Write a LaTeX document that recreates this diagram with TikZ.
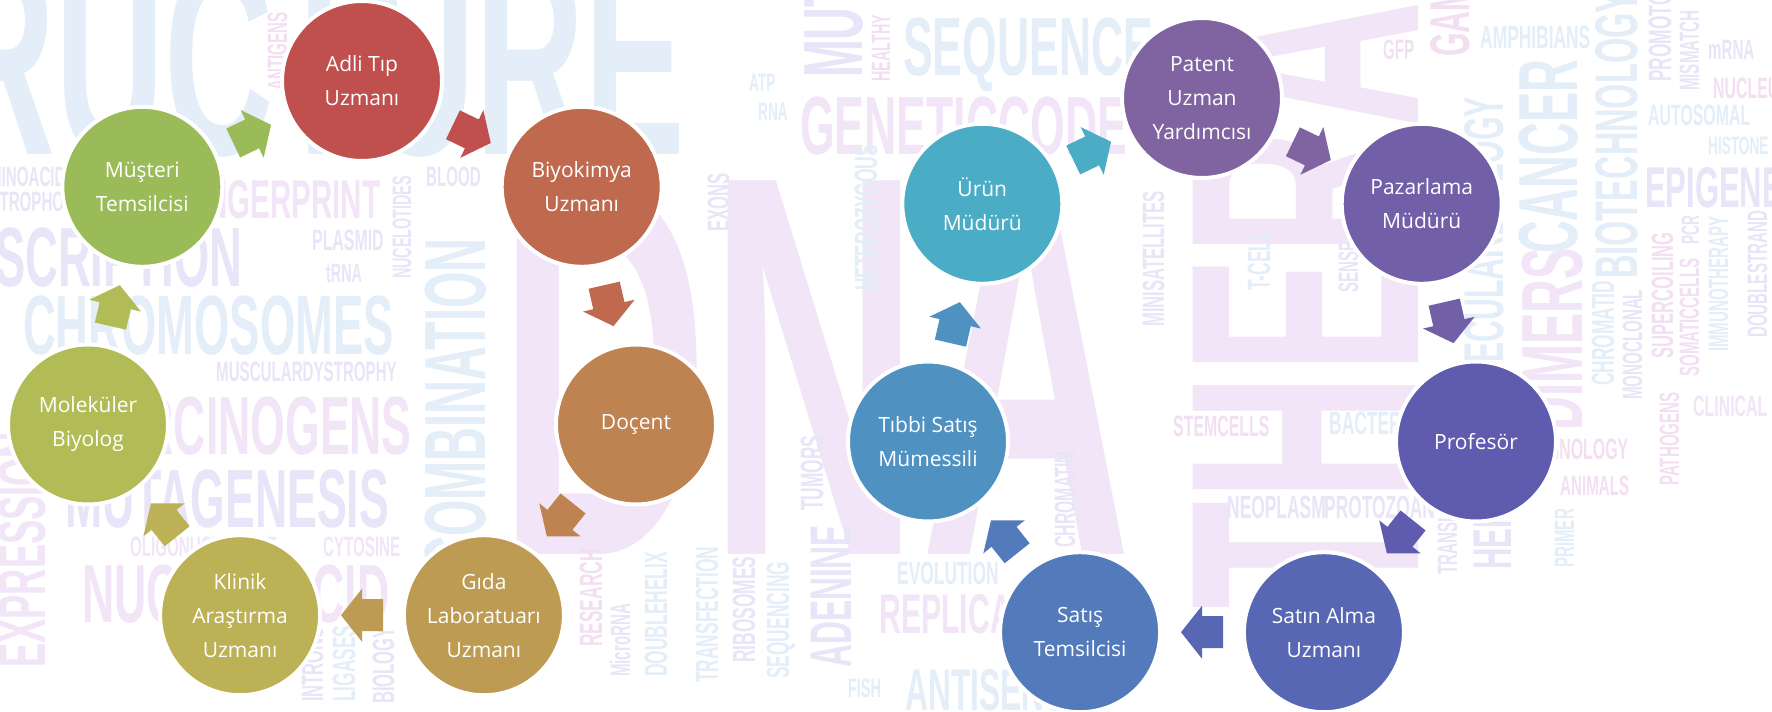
\documentclass[tikz,border=0pt]{standalone}
\usepackage{fontspec}
\setmainfont{Open Sans}
\newfontfamily\cloudfont[FakeStretch=0.54]{Liberation Sans}

\definecolor{left1}{HTML}{C0504D}
\definecolor{left2}{HTML}{BF6A4F}
\definecolor{left3}{HTML}{BE8351}
\definecolor{left4}{HTML}{BD9B53}
\definecolor{left5}{HTML}{BCB155}
\definecolor{left6}{HTML}{B1BC57}
\definecolor{left7}{HTML}{9BBB59}
\definecolor{right1}{HTML}{8064A2}
\definecolor{right2}{HTML}{7160A8}
\definecolor{right3}{HTML}{5F5BAE}
\definecolor{right4}{HTML}{5767B4}
\definecolor{right5}{HTML}{537ABA}
\definecolor{right6}{HTML}{4F91C0}
\definecolor{right7}{HTML}{4BACC6}
\definecolor{cloudblue}{HTML}{E3EEF8}
\definecolor{cloudlilac}{HTML}{F1E5F7}
\definecolor{cloudviolet}{HTML}{E7E5F7}
\definecolor{cloudpink}{HTML}{F3DFF2}

\tikzset{
    stage/.style={circle, draw=white, line width=4pt, minimum size=160pt, inner sep=0pt,
        align=center, text=white, font=\fontsize{21}{34}\selectfont},
    cloudword/.style={inner sep=0pt, anchor=base west},
    pics/cyclearrow/.style={code={
        \fill[#1] (-21,-16) -- (0,-16) -- (0,-26.5) -- (21,0) -- (0,26.5) -- (0,16) -- (-21,16) -- cycle;
    }},
}

\begin{document}
\begin{tikzpicture}[x=1pt, y=-1pt]
% Canvas
    \useasboundingbox (0,0) rectangle (1772,712);
    \clip (0,0) rectangle (1772,712);
    \fill[white] (0,0) rectangle (1772,712);
% Word cloud
    \foreach \w/\x/\y/\s/\r/\c [evaluate=\s as \fs using 1.4*\s] in {
        STRUCTURE/-247/154/200/0/cloudblue, DNA/497/554/388/0/cloudlilac,
        THERAPY/1418/610/234/90/cloudlilac,
        TRANSCRIPTION/-131/286/60/0/cloudviolet, CHROMOSOMES/23/354/60/0/cloudblue,
        AMINOACIDS/-22/186/20/0/cloudviolet, ELECTROPHORESIS/-41/211/20/0/cloudviolet,
        FINGERPRINT/180/218/39/0/cloudlilac, PLASMID/312/250/21/0/cloudviolet,
        tRNA/326/282/19/0/cloudviolet, BLOOD/426/186/20/0/cloudviolet,
        MUSCULARDYSTROPHY/216/381/20/0/cloudviolet, CARCINOGENS/77/454/59/0/cloudlilac,
        MUTAGENESIS/65/527/59/0/cloudviolet, OLIGONUCLEOTIDE/130/556/20/0/cloudlilac,
        CYTOSINE/323/556/20/0/cloudlilac, NUCLEICACID/82/622/59/0/cloudlilac,
        GENETICCODE/800/154/59/0/cloudlilac, SEQUENCE/903/75/59/0/cloudblue,
        ATP/749/91/18/0/cloudblue, RNA/758/120/18/0/cloudblue,
        EVOLUTION/897/584/23/0/cloudblue, REPLICATION/879/633/40/0/cloudlilac,
        ANTISENSE/905/710/42/0/cloudblue, FISH/848/697/19/0/cloudblue,
        STEMCELLS/1173/436/21/0/cloudpink, BACTERIA/1329/434/23/0/cloudblue,
        NEOPLASM/1227/518/23/0/cloudviolet, PROTOZOAN/1324/518/23/0/cloudviolet,
        AMPHIBIANS/1480/48/23/0/cloudblue, GFP/1383/59/20/0/cloudpink,
        mRNA/1708/59/20/0/cloudviolet, NUCLEUS/1713/98/21/0/cloudpink,
        AUTOSOMAL/1648/125/21/0/cloudblue, HISTONE/1708/154/18/0/cloudblue,
        EPIGENETICS/1645/207/41/0/cloudviolet, CLINICAL/1693/416/21/0/cloudlilac,
        TECHNOLOGY/1516/459/21/0/cloudpink, ANIMALS/1560/495/20/0/cloudpink,
        RECOMBINATION/485/636/62/90/cloudblue, EXPRESSION/45/668/48/90/cloudlilac,
        ANTIGENS/287/91/20/90/cloudpink, NUCELOTIDES/411/279/19/90/cloudviolet,
        EXONS/729/232/22/90/cloudviolet, HETEROZYGOUS/877/291/23/90/cloudblue,
        HEALTHY/890/82/19/90/cloudpink, MUTATION/862/78/60/90/cloudviolet,
        INTRONS/323/702/22/90/cloudviolet, LIGASES/355/702/23/90/cloudblue,
        BIOLOGY/394/704/22/90/cloudviolet, RESEARCH/602/647/23/90/cloudpink,
        MicroRNA/630/677/20/90/cloudviolet, DOUBLEHELIX/667/677/23/90/cloudblue,
        TRANSFECTION/718/683/23/90/cloudblue, RIBOSOMES/755/663/23/90/cloudviolet,
        SEQUENCING/789/679/23/90/cloudblue, ADENINE/851/668/42/90/cloudviolet,
        TUMORS/823/511/23/90/cloudviolet, CHROMATIN/1075/548/21/90/cloudviolet,
        MINISATELLITES/1164/327/22/90/cloudviolet, T-CELL/1270/291/23/90/cloudblue,
        SENSE/1358/293/20/90/cloudviolet, CANCER/1577/254/60/90/cloudblue,
        DIMERS/1582/431/62/90/cloudlilac, MOLECULARBIOLOGY/1503/430/40/90/cloudblue,
        BIOTECHNOLOGY/1637/279/43/90/cloudblue, GAMETES/1469/57/40/90/cloudpink,
        PROMOTOR/1671/82/23/90/cloudviolet, MISMATCH/1699/91/20/90/cloudviolet,
        PCR/1699/245/18/90/cloudviolet, CHROMATID/1614/386/23/90/cloudblue,
        MONOCLONAL/1642/400/20/90/cloudviolet, SUPERCOILING/1673/359/22/90/cloudpink,
        SOMATICCELLS/1699/377/20/90/cloudpink, IMMUNOTHERAPY/1728/352/20/90/cloudblue,
        DOUBLESTRAND/1767/338/20/90/cloudviolet, PATHOGENS/1679/486/20/90/cloudpink,
        PRIMER/1574/568/20/90/cloudblue, HEREDITY/1511/570/39/90/cloudviolet,
        TRANSLATION/1457/575/20/90/cloudviolet}
        \node[cloudword, rotate=\r, text=\c, font=\cloudfont\bfseries\fontsize{\fs}{\fs}\selectfont] (cloud-\w) at (\x,\y) {\w};
% Left cycle
    \node[stage, fill=left1] (adli) at (362,81) {Adli Tıp\\Uzmanı};
    \node[stage, fill=left2] (biyokimya) at (581.7,186.8) {Biyokimya\\Uzmanı};
    \node[stage, fill=left3] (docent) at (636,424.5) {Doçent};
    \node[stage, fill=left4] (gida) at (483.9,615.2) {Gıda\\Laboratuarı\\Uzmanı};
    \node[stage, fill=left5] (klinik) at (240.1,615.2) {Klinik\\Araştırma\\Uzmanı};
    \node[stage, fill=left6] (molekuler) at (88,424.5) {Moleküler\\Biyolog};
    \node[stage, fill=left7] (musteri) at (142.3,186.8) {Müşteri\\Temsilcisi};
% Right cycle
    \node[stage, fill=right1] (patent) at (1202,98) {Patent\\Uzman\\Yardımcısı};
    \node[stage, fill=right2] (pazarlama) at (1421.7,203.8) {Pazarlama\\Müdürü};
    \node[stage, fill=right3] (profesor) at (1476,441.5) {Profesör};
    \node[stage, fill=right4] (satinalma) at (1323.9,632.2) {Satın Alma\\Uzmanı};
    \node[stage, fill=right5] (satis) at (1080.1,632.2) {Satış\\Temsilcisi};
    \node[stage, fill=right6] (tibbi) at (928,441.5) {Tıbbi Satış\\Mümessili};
    \node[stage, fill=right7] (urun) at (982.3,203.8) {Ürün\\Müdürü};
% Arrows, coloured like the stage they leave
    \path (adli) -- (biyokimya) pic[midway, sloped, allow upside down]{cyclearrow=left1};
    \path (biyokimya) -- (docent) pic[midway, sloped, allow upside down]{cyclearrow=left2};
    \path (docent) -- (gida) pic[midway, sloped, allow upside down]{cyclearrow=left3};
    \path (gida) -- (klinik) pic[midway, sloped, allow upside down]{cyclearrow=left4};
    \path (klinik) -- (molekuler) pic[midway, sloped, allow upside down]{cyclearrow=left5};
    \path (molekuler) -- (musteri) pic[midway, sloped, allow upside down]{cyclearrow=left6};
    \path (musteri) -- (adli) pic[midway, sloped, allow upside down]{cyclearrow=left7};
    \path (patent) -- (pazarlama) pic[midway, sloped, allow upside down]{cyclearrow=right1};
    \path (pazarlama) -- (profesor) pic[midway, sloped, allow upside down]{cyclearrow=right2};
    \path (profesor) -- (satinalma) pic[midway, sloped, allow upside down]{cyclearrow=right3};
    \path (satinalma) -- (satis) pic[midway, sloped, allow upside down]{cyclearrow=right4};
    \path (satis) -- (tibbi) pic[midway, sloped, allow upside down]{cyclearrow=right5};
    \path (tibbi) -- (urun) pic[midway, sloped, allow upside down]{cyclearrow=right6};
    \path (urun) -- (patent) pic[midway, sloped, allow upside down]{cyclearrow=right7};
\end{tikzpicture}
\end{document}
